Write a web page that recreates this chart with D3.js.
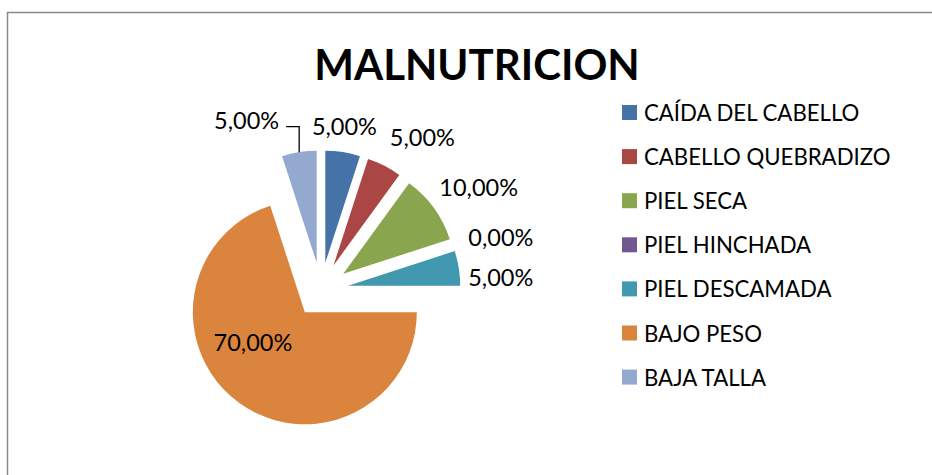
<!DOCTYPE html>
<html>
<head>
<meta charset="utf-8">
<script src="https://cdn.jsdelivr.net/npm/d3@7"></script>
<style>
    body { margin: 0; background: #fff; }
    svg text { font-family: Lato, "Noto Sans", sans-serif; fill: #000; }
</style>
</head>
<body>
<div class="chart-container"></div>
<script>
const title = 'MALNUTRICION';
const categories = ['CAÍDA DEL CABELLO', 'CABELLO QUEBRADIZO', 'PIEL SECA', 'PIEL HINCHADA',
                    'PIEL DESCAMADA', 'BAJO PESO', 'BAJA TALLA'];
const values = [5, 5, 10, 0, 5, 70, 5];
const colors = ['#4572A7', '#AA4643', '#89A54E', '#71588F', '#4198AF', '#DB843D', '#93A9CF'];
// small nudges for the data labels, the way excel moved them apart
const labelNudge = [[-6, -2], [16, -6], [0, -6], [1, -2], [-6, 13], [-19, -16], [-45, -8]];

const width = 932;
const height = 475;
const cx = 321;
const cy = 290;
const radius = 112;
const explode = 27.5;

const svg = d3.select('.chart-container')
              .append('svg')
              .attr('width', width)
              .attr('height', height);

// chart area border (runs past right and bottom edge)
svg.append('rect')
   .attr('x', 7.5)
   .attr('y', 12.5)
   .attr('width', width + 20)
   .attr('height', height + 20)
   .attr('fill', 'none')
   .attr('stroke', '#8a8a8a')
   .attr('stroke-width', 1.5);

svg.append('text')
   .attr('x', 477)
   .attr('y', 80)
   .attr('text-anchor', 'middle')
   .attr('font-size', 42)
   .attr('font-weight', 'bold')
   .text(title);

const pie = d3.pie().sort(null).value(d => d)(values);
const arc = d3.arc().innerRadius(0).outerRadius(radius);
const fmt = v => d3.format('.2f')(v).replace('.', ',') + '%';

const dir = d => {
    const a = (d.startAngle + d.endAngle) / 2;
    return [Math.sin(a), -Math.cos(a)];
};

const g = svg.append('g').attr('transform', 'translate(' + cx + ',' + cy + ')');

const slices = g.selectAll('g.slice')
                .data(pie)
                .enter()
                .append('g')
                .attr('class', 'slice')
                .attr('transform', d => {
                    const u = dir(d);
                    return 'translate(' + (u[0] * explode) + ',' + (u[1] * explode) + ')';
                });

slices.append('path')
      .attr('d', arc)
      .attr('fill', (d, i) => colors[i]);

// data labels: outside end, except the big slice which gets it inside
const labelR = radius + explode + 16;
const labels = g.selectAll('text.lbl')
                .data(pie)
                .enter()
                .append('text')
                .attr('class', 'lbl')
                .attr('font-size', 23.5)
                .attr('text-anchor', 'middle')
                .attr('dominant-baseline', 'central')
                .text(d => fmt(d.data));

labels.each(function(d, i) {
    const el = d3.select(this);
    const u = dir(d);
    const w = this.getComputedTextLength();
    let x, y;
    if (d.data > 50) {
        const c = arc.centroid(d);
        x = c[0] + u[0] * explode;
        y = c[1] + u[1] * explode;
    } else {
        x = u[0] * labelR + u[0] * w / 2;
        y = u[1] * labelR + u[1] * 9;
    }
    x += labelNudge[i][0];
    y += labelNudge[i][1];
    el.attr('x', x).attr('y', y);
    d.lx = x;
    d.ly = y;
    d.lw = w;
});

// leader line for the label that got pushed away (BAJA TALLA)
const moved = pie[6];
const mu = dir(moved);
const tip = [mu[0] * (explode + radius), mu[1] * (explode + radius)];
const lineY = moved.ly + 7;
g.append('path')
 .attr('d', d3.line()([[moved.lx + moved.lw / 2 + 7, lineY], [tip[0], lineY], tip]))
 .attr('fill', 'none')
 .attr('stroke', '#000')
 .attr('stroke-width', 1.3);

// legend
const legend = svg.append('g').attr('transform', 'translate(622,112.5)');
const items = legend.selectAll('g')
                    .data(categories)
                    .enter()
                    .append('g')
                    .attr('transform', (d, i) => 'translate(0,' + (i * 44.1) + ')');

items.append('rect')
     .attr('x', 0)
     .attr('y', -7.5)
     .attr('width', 15)
     .attr('height', 15)
     .attr('fill', (d, i) => colors[i]);

items.append('text')
     .attr('x', 22)
     .attr('y', 0)
     .attr('dominant-baseline', 'central')
     .attr('font-size', 22.2)
     .text(d => d);
</script>
</body>
</html>
